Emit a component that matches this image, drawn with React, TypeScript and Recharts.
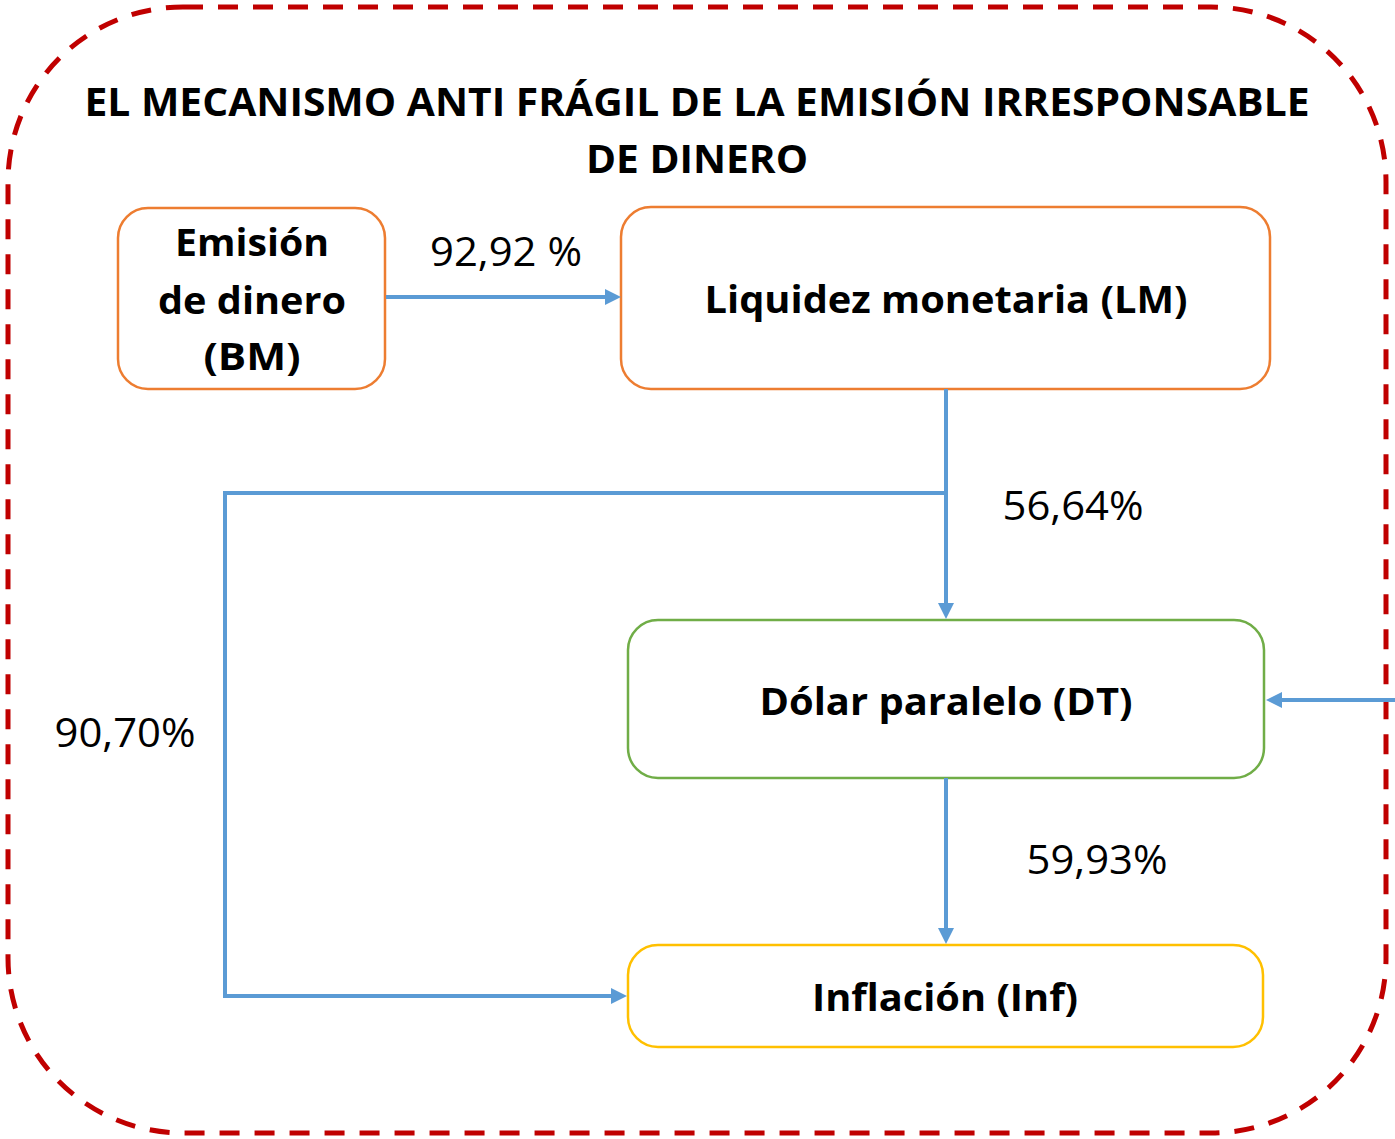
import { ComposedChart, XAxis, YAxis, Line, Scatter, ReferenceArea } from "recharts";

// Diagram drawn in a pixel-like data space: x 0..1395, y 0..1139 (y reversed).
const W = 1395;
const H = 1139;

const BLUE = "#5B9BD5";
const FONT = "'Open Sans', 'DejaVu Sans', sans-serif";

// boxes: [x1, x2, y1, y2]
const frame = { x1: 8, x2: 1386, y1: 7, y2: 1133 };
const boxes = [
  { id: "BM", x1: 118, x2: 385, y1: 208, y2: 389, color: "#ED7D31" },
  { id: "LM", x1: 621, x2: 1270, y1: 207, y2: 389, color: "#ED7D31" },
  { id: "DT", x1: 628, x2: 1264, y1: 620, y2: 778, color: "#70AD47" },
  { id: "Inf", x1: 628, x2: 1263, y1: 945, y2: 1047, color: "#FFC000" },
];

// connectors (polylines)
const bmToLm = [
  { x: 386, y: 297 },
  { x: 610, y: 297 },
];
const lmToDt = [
  { x: 946, y: 389 },
  { x: 946, y: 608 },
];
const lmToInf = [
  { x: 946, y: 493 },
  { x: 225, y: 493 },
  { x: 225, y: 996 },
  { x: 615, y: 996 },
];
const dtToInf = [
  { x: 946, y: 778 },
  { x: 946, y: 933 },
];
const extToDt = [
  { x: 1395, y: 700 },
  { x: 1278, y: 700 },
];

// arrow tips
const arrowTips = [
  { x: 621, y: 297, dir: "right" },
  { x: 946, y: 619, dir: "down" },
  { x: 627, y: 996, dir: "right" },
  { x: 946, y: 944, dir: "down" },
  { x: 1266, y: 700, dir: "left" },
];

// texts (baseline positions)
const labels = [
  { x: 697, y: 116, text: "EL MECANISMO ANTI FRÁGIL DE LA EMISIÓN IRRESPONSABLE", bold: true, size: 40, len: 1225 },
  { x: 697, y: 173, text: "DE DINERO", bold: true, size: 40, len: 222 },
  { x: 252, y: 256, text: "Emisión", bold: true, size: 38, len: 154 },
  { x: 252, y: 314, text: "de dinero", bold: true, size: 38, len: 188 },
  { x: 252, y: 370, text: "(BM)", bold: true, size: 38, len: 97 },
  { x: 946, y: 313, text: "Liquidez monetaria (LM)", bold: true, size: 38, len: 483 },
  { x: 946, y: 715, text: "Dólar paralelo (DT)", bold: true, size: 38, len: 373 },
  { x: 945, y: 1011, text: "Inflación (Inf)", bold: true, size: 38, len: 266 },
  { x: 506, y: 266, text: "92,92 %", bold: false, size: 40, len: 152 },
  { x: 1073, y: 520, text: "56,64%", bold: false, size: 40, len: 141 },
  { x: 125, y: 747, text: "90,70%", bold: false, size: 40, len: 141 },
  { x: 1097, y: 874, text: "59,93%", bold: false, size: 40, len: 141 },
];

const roundedBox = (rx: number, stroke: string, width: number, dash?: string) => (p: any) => (
  <rect
    x={p.x}
    y={p.y}
    width={p.width}
    height={p.height}
    rx={rx}
    ry={rx}
    fill="none"
    stroke={stroke}
    strokeWidth={width}
    strokeDasharray={dash}
  />
);

const ArrowHead = (p: any) => {
  const { cx, cy, payload } = p;
  const L = 16;
  const w = 8;
  let pts = "";
  if (payload.dir === "right") pts = `${cx},${cy} ${cx - L},${cy - w} ${cx - L},${cy + w}`;
  if (payload.dir === "left") pts = `${cx},${cy} ${cx + L},${cy - w} ${cx + L},${cy + w}`;
  if (payload.dir === "down") pts = `${cx},${cy} ${cx - w},${cy - L} ${cx + w},${cy - L}`;
  return <polygon points={pts} fill={BLUE} />;
};

const TextMark = (p: any) => {
  const { cx, cy, payload } = p;
  return (
    <text
      x={cx}
      y={cy}
      textAnchor="middle"
      fontFamily={FONT}
      fontWeight={payload.bold ? 700 : 400}
      fontSize={payload.size}
      fill="#000"
      textLength={payload.len}
      lengthAdjust="spacingAndGlyphs"
    >
      {payload.text}
    </text>
  );
};

const connectors = [bmToLm, lmToDt, lmToInf, dtToInf, extToDt];

export default function App() {
  return (
    <div style={{ position: "absolute", left: 0, top: 0, background: "#fff" }}>
      <ComposedChart width={W} height={H} margin={{ top: 0, right: 0, bottom: 0, left: 0 }}>
        <XAxis type="number" dataKey="x" domain={[0, W]} hide allowDataOverflow />
        <YAxis type="number" dataKey="y" domain={[0, H]} reversed hide allowDataOverflow />
        <ReferenceArea
          x1={frame.x1}
          x2={frame.x2}
          y1={frame.y1}
          y2={frame.y2}
          ifOverflow="visible"
          shape={roundedBox(175, "#C00000", 5, "20 15")}
        />
        {boxes.map((b) => (
          <ReferenceArea
            key={b.id}
            x1={b.x1}
            x2={b.x2}
            y1={b.y1}
            y2={b.y2}
            ifOverflow="visible"
            shape={roundedBox(30, b.color, 2.5)}
          />
        ))}
        {connectors.map((c, i) => (
          <Line
            key={i}
            data={c}
            dataKey="y"
            type="linear"
            stroke={BLUE}
            strokeWidth={4}
            dot={false}
            activeDot={false}
            isAnimationActive={false}
          />
        ))}
        <Scatter data={arrowTips} dataKey="y" shape={ArrowHead} isAnimationActive={false} />
        <Scatter data={labels} dataKey="y" shape={TextMark} isAnimationActive={false} />
      </ComposedChart>
    </div>
  );
}
